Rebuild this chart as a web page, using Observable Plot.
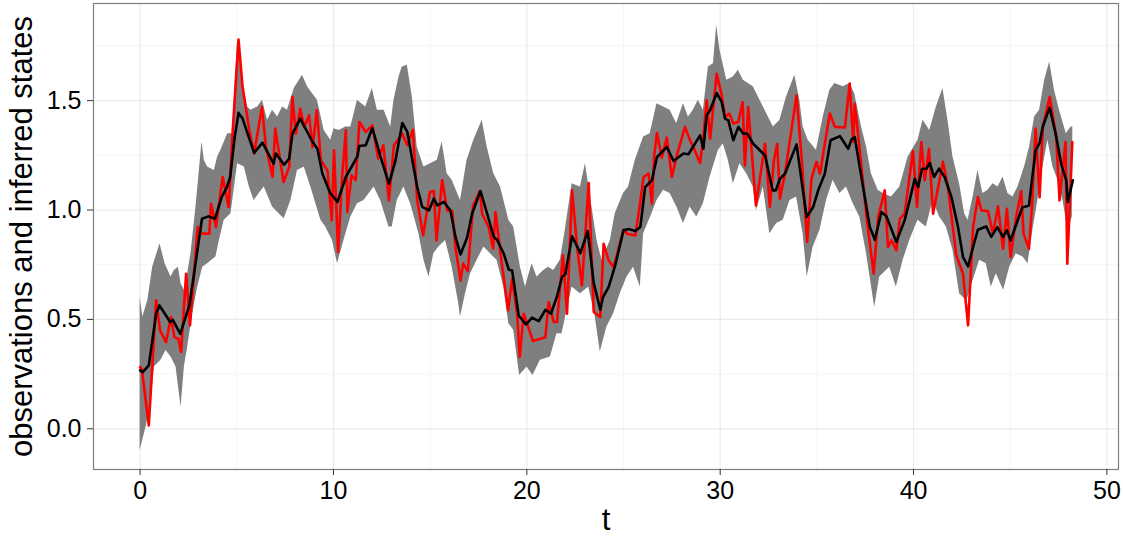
<!DOCTYPE html>
<html><head><meta charset="utf-8">
<script src="https://cdn.jsdelivr.net/npm/d3@7"></script>
<script src="https://cdn.jsdelivr.net/npm/@observablehq/plot@0.6"></script>
<style>body{margin:0;background:#fff;}</style>
</head><body><div id="chart"></div>
<script>
// inferred state (black line): [t, value]
const stateTV = [[0.00,0.267],[0.14,0.259],[0.45,0.290],[0.83,0.526],[1.00,0.564],[1.34,0.518],[1.55,0.488],[1.69,0.498],[2.08,0.434],[2.38,0.518],[2.55,0.564],[2.89,0.770],[3.20,0.960],[3.53,0.971],[3.87,0.960],[4.22,1.059],[4.49,1.105],[4.66,1.151],[4.87,1.319],[5.09,1.444],[5.30,1.418],[5.56,1.349],[5.90,1.261],[6.33,1.308],[6.90,1.212],[7.02,1.258],[7.45,1.207],[7.71,1.235],[7.88,1.349],[8.28,1.418],[8.92,1.311],[9.17,1.280],[9.43,1.166],[9.83,1.078],[10.21,1.037],[10.64,1.151],[11.24,1.245],[11.33,1.293],[11.67,1.296],[12.01,1.375],[12.44,1.242],[12.87,1.120],[13.21,1.227],[13.56,1.398],[13.82,1.357],[14.33,1.105],[14.59,1.014],[14.94,0.998],[15.19,1.052],[15.37,1.021],[15.71,1.037],[16.05,0.998],[16.31,0.877],[16.57,0.797],[16.91,0.873],[17.17,0.983],[17.60,1.087],[17.95,0.983],[18.29,0.877],[18.46,0.864],[18.81,0.800],[19.07,0.727],[19.24,0.724],[19.58,0.518],[19.96,0.477],[20.27,0.508],[20.62,0.492],[20.96,0.544],[21.25,0.526],[21.56,0.605],[21.82,0.694],[21.99,0.706],[22.34,0.880],[22.77,0.803],[23.15,0.904],[23.46,0.666],[23.80,0.544],[23.94,0.602],[24.23,0.648],[24.57,0.747],[25.00,0.907],[25.26,0.913],[25.61,0.904],[25.87,0.922],[26.12,1.105],[26.47,1.136],[26.73,1.242],[27.24,1.288],[27.59,1.224],[28.10,1.258],[28.36,1.255],[28.96,1.341],[29.13,1.280],[29.30,1.433],[29.48,1.456],[29.82,1.535],[30.08,1.494],[30.25,1.418],[30.42,1.410],[30.68,1.319],[30.94,1.380],[31.20,1.349],[31.40,1.349],[31.71,1.303],[31.97,1.280],[32.32,1.250],[32.71,1.090],[32.88,1.090],[33.09,1.143],[33.35,1.166],[33.95,1.300],[34.47,0.968],[34.81,1.014],[35.07,1.090],[35.41,1.166],[35.71,1.319],[36.19,1.338],[36.62,1.280],[36.79,1.322],[36.96,1.334],[37.39,1.105],[37.74,0.922],[38.00,0.864],[38.34,0.991],[38.60,0.971],[39.11,0.854],[39.54,0.953],[39.80,1.044],[40.06,1.143],[40.24,1.105],[40.44,1.189],[40.67,1.189],[40.84,1.215],[41.06,1.151],[41.32,1.189],[41.61,1.151],[41.96,1.059],[42.30,0.922],[42.56,0.785],[42.82,0.742],[43.08,0.831],[43.33,0.910],[43.76,0.925],[44.02,0.877],[44.33,0.922],[44.63,0.877],[44.83,0.907],[45.02,0.861],[45.31,0.934],[45.62,1.011],[45.97,1.021],[46.31,1.273],[46.52,1.306],[46.69,1.383],[47.04,1.468],[47.35,1.349],[47.64,1.209],[47.90,1.136],[47.98,1.037],[48.24,1.136]];

// observations (red line): [t, value]
const obsTV = [[0.00,0.282],[0.09,0.274],[0.45,0.015],[0.83,0.587],[1.03,0.450],[1.34,0.396],[1.60,0.511],[1.77,0.419],[1.98,0.412],[2.12,0.351],[2.38,0.709],[2.58,0.473],[2.98,0.922],[3.15,0.892],[3.58,0.892],[3.67,1.029],[3.92,0.922],[4.27,1.151],[4.58,1.014],[4.78,1.349],[5.09,1.779],[5.30,1.563],[5.65,1.364],[5.90,1.258],[6.30,1.471],[6.51,1.288],[6.85,1.151],[6.99,1.372],[7.42,1.128],[7.71,1.197],[7.88,1.517],[8.05,1.349],[8.28,1.463],[8.49,1.380],[8.74,1.433],[8.92,1.288],[9.14,1.456],[9.35,1.227],[9.69,1.181],[9.91,0.953],[10.03,1.273],[10.24,0.808],[10.46,1.166],[10.64,1.364],[10.72,0.991],[10.93,1.159],[11.15,1.136],[11.34,1.402],[11.67,1.357],[12.01,1.387],[12.31,1.235],[12.58,1.296],[12.87,1.044],[13.13,1.296],[13.56,1.349],[13.82,1.296],[14.11,1.367],[14.33,1.044],[14.64,0.884],[14.99,1.082],[15.19,1.087],[15.33,0.861],[15.62,1.136],[15.88,0.998],[16.14,0.995],[16.31,0.831],[16.57,0.678],[16.71,0.755],[16.95,0.721],[17.22,1.021],[17.57,1.087],[17.69,0.983],[18.03,0.922],[18.26,0.823],[18.38,0.991],[18.64,0.800],[19.03,0.541],[19.24,0.686],[19.50,0.526],[19.63,0.328],[19.84,0.526],[20.32,0.401],[20.96,0.419],[21.13,0.579],[21.39,0.488],[21.56,0.488],[21.87,0.793],[22.08,0.526],[22.34,1.090],[22.60,0.831],[22.85,0.655],[23.20,1.123],[23.46,0.534],[23.80,0.511],[23.97,0.846],[24.23,0.770],[24.49,0.739],[25.00,0.910],[25.18,0.892],[25.61,0.884],[25.83,1.014],[26.04,1.151],[26.30,1.166],[26.47,1.029],[26.59,1.250],[26.73,1.352],[26.98,1.239],[27.24,1.331],[27.50,1.151],[27.76,1.250],[28.18,1.380],[28.44,1.319],[28.61,1.288],[28.96,1.215],[29.13,1.331],[29.30,1.502],[29.48,1.326],[29.82,1.623],[30.08,1.524],[30.25,1.425],[30.47,1.441],[30.68,1.395],[30.94,1.402],[31.16,1.494],[31.28,1.204],[31.45,1.471],[31.85,1.021],[32.32,1.303],[32.57,1.014],[32.78,1.227],[32.95,1.303],[33.09,1.052],[33.35,1.166],[33.95,1.524],[34.21,1.242],[34.50,0.854],[34.72,1.143],[34.98,1.220],[35.16,1.166],[35.67,1.441],[35.93,1.380],[36.45,1.377],[36.70,1.578],[36.88,1.311],[36.96,1.486],[37.22,1.273],[37.57,0.968],[37.94,0.709],[38.17,0.968],[38.51,1.090],[38.68,0.831],[38.86,0.861],[39.11,0.816],[39.29,0.960],[39.54,0.983],[39.97,1.270],[40.18,1.014],[40.40,1.311],[40.58,1.136],[40.80,1.280],[41.01,0.983],[41.52,1.220],[41.78,1.105],[42.21,0.793],[42.56,0.709],[42.82,0.473],[43.08,0.922],[43.33,1.059],[43.51,0.998],[43.85,0.995],[44.11,0.892],[44.37,1.017],[44.63,0.823],[44.83,1.006],[45.02,0.785],[45.31,0.968],[45.57,1.087],[45.69,0.892],[45.97,0.823],[46.14,1.037],[46.31,1.372],[46.52,1.059],[46.69,1.380],[47.04,1.517],[47.38,1.334],[47.55,1.044],[47.86,1.311],[47.95,0.755],[48.07,0.998],[48.21,1.311]];

// credible band upper edge: [t, value]
const bandHiTV = [[0.00,0.602],[0.14,0.511],[0.40,0.587],[0.65,0.739],[1.03,0.846],[1.29,0.755],[1.60,0.694],[1.77,0.724],[1.98,0.739],[2.12,0.663],[2.29,0.633],[2.46,0.709],[2.63,0.800],[2.89,1.014],[3.20,1.311],[3.32,1.227],[3.49,1.197],[3.84,1.181],[4.01,1.242],[4.18,1.273],[4.53,1.349],[4.78,1.349],[5.04,1.776],[5.30,1.578],[5.56,1.471],[5.73,1.456],[6.08,1.471],[6.33,1.502],[6.59,1.410],[6.85,1.456],[7.11,1.425],[7.37,1.471],[7.62,1.456],[7.97,1.555],[8.40,1.616],[8.66,1.563],[8.92,1.532],[9.17,1.502],[9.52,1.364],[9.86,1.319],[10.03,1.372],[10.29,1.364],[10.64,1.380],[10.90,1.380],[11.24,1.502],[11.67,1.471],[12.01,1.555],[12.27,1.456],[12.62,1.456],[12.96,1.380],[13.13,1.502],[13.39,1.608],[13.56,1.654],[13.82,1.662],[14.08,1.517],[14.33,1.288],[14.68,1.197],[15.02,1.212],[15.37,1.227],[15.62,1.311],[15.88,1.166],[16.14,1.136],[16.57,1.044],[16.91,1.227],[17.26,1.319],[17.69,1.410],[17.95,1.288],[18.29,1.166],[18.64,1.105],[19.07,0.953],[19.32,0.922],[19.67,0.739],[19.93,0.648],[20.27,0.755],[20.53,0.694],[20.87,0.724],[21.13,0.739],[21.39,0.724],[21.73,0.770],[21.99,0.907],[22.34,1.120],[22.77,1.105],[23.03,1.212],[23.37,1.014],[23.63,0.861],[23.89,0.770],[24.32,0.861],[24.57,0.983],[25.00,1.075],[25.26,1.105],[25.61,1.227],[26.04,1.334],[26.38,1.349],[26.73,1.486],[27.07,1.471],[27.41,1.456],[27.75,1.395],[28.10,1.486],[28.36,1.425],[28.61,1.456],[28.87,1.502],[29.13,1.456],[29.39,1.654],[29.65,1.669],[29.82,1.845],[29.99,1.730],[30.34,1.593],[30.68,1.608],[30.94,1.639],[31.20,1.593],[31.71,1.563],[32.06,1.502],[32.40,1.441],[32.75,1.380],[33.09,1.410],[33.43,1.517],[33.86,1.616],[34.12,1.502],[34.29,1.380],[34.55,1.319],[34.98,1.273],[35.33,1.425],[35.67,1.547],[35.93,1.578],[36.36,1.563],[36.70,1.578],[36.96,1.532],[37.31,1.380],[37.57,1.288],[37.82,1.166],[38.17,1.090],[38.43,1.075],[38.86,1.059],[39.29,1.105],[39.72,1.242],[40.23,1.319],[40.49,1.410],[40.84,1.364],[41.18,1.471],[41.52,1.555],[41.78,1.410],[42.04,1.242],[42.38,1.120],[42.64,0.983],[42.82,0.953],[43.08,1.059],[43.33,1.181],[43.59,1.075],[43.85,1.090],[44.11,1.120],[44.37,1.105],[44.63,1.151],[44.88,1.075],[45.14,1.059],[45.40,1.105],[45.74,1.197],[46.00,1.288],[46.26,1.425],[46.52,1.456],[46.78,1.593],[47.04,1.677],[47.29,1.547],[47.55,1.456],[47.90,1.349],[48.15,1.380],[48.24,1.380]];

// credible band lower edge: [t, value]
const bandLoTV = [[0.00,-0.099],[0.31,0.008],[0.57,0.130],[0.74,0.282],[1.08,0.313],[1.34,0.358],[1.60,0.328],[1.86,0.282],[2.12,0.099],[2.29,0.282],[2.46,0.373],[2.72,0.526],[2.98,0.648],[3.24,0.739],[3.49,0.755],[3.92,0.785],[4.10,0.861],[4.35,0.953],[4.70,0.983],[5.04,1.212],[5.39,1.197],[5.65,1.105],[5.90,1.044],[6.16,1.075],[6.42,1.105],[6.85,1.014],[7.19,0.983],[7.45,0.960],[7.80,1.044],[8.14,1.181],[8.49,1.197],[8.83,1.105],[9.35,0.953],[9.60,0.922],[9.95,0.861],[10.21,0.755],[10.64,0.892],[10.90,0.968],[11.24,1.029],[11.58,1.044],[12.10,1.105],[12.44,1.044],[12.87,0.922],[13.04,0.922],[13.30,1.044],[13.64,1.105],[13.99,1.029],[14.42,0.892],[14.68,0.770],[14.94,0.694],[15.19,0.800],[15.45,0.831],[15.80,0.861],[16.14,0.739],[16.48,0.572],[16.57,0.511],[16.83,0.617],[17.09,0.709],[17.43,0.770],[17.78,0.831],[18.12,0.800],[18.46,0.770],[18.81,0.648],[19.07,0.480],[19.32,0.450],[19.63,0.244],[20.01,0.282],[20.32,0.244],[20.70,0.313],[21.22,0.328],[21.56,0.434],[21.82,0.434],[22.08,0.541],[22.34,0.648],[22.77,0.617],[23.20,0.648],[23.54,0.511],[23.80,0.351],[24.14,0.465],[24.49,0.526],[24.83,0.617],[25.18,0.694],[25.52,0.739],[25.87,0.648],[26.04,0.892],[26.47,0.983],[26.73,1.044],[27.07,1.090],[27.41,1.075],[27.76,1.014],[28.10,0.938],[28.44,1.014],[28.79,0.968],[29.13,1.029],[29.48,1.151],[29.91,1.273],[30.16,1.303],[30.42,1.227],[30.68,1.120],[31.02,1.212],[31.37,1.166],[31.71,1.105],[31.88,0.998],[32.23,1.105],[32.57,0.892],[32.92,0.938],[33.26,0.953],[33.61,1.044],[33.95,1.059],[34.29,0.892],[34.50,0.694],[34.81,0.831],[35.16,0.907],[35.50,1.044],[35.84,1.136],[36.19,1.075],[36.53,1.105],[36.88,1.029],[37.22,0.968],[37.57,0.800],[37.99,0.556],[38.25,0.694],[38.77,0.739],[39.11,0.648],[39.46,0.770],[39.80,0.861],[40.23,0.953],[40.66,0.922],[41.01,1.044],[41.35,0.968],[41.70,0.922],[42.04,0.816],[42.38,0.617],[42.73,0.587],[42.82,0.602],[43.08,0.678],[43.42,0.770],[43.76,0.755],[44.02,0.648],[44.28,0.709],[44.66,0.633],[44.97,0.739],[45.31,0.800],[45.66,0.785],[45.92,0.755],[46.17,0.907],[46.43,1.044],[46.69,1.197],[46.95,1.319],[47.21,1.197],[47.47,1.136],[47.73,1.044],[47.98,0.907],[48.21,0.968]];

const xTicks = [0, 10, 20, 30, 40, 50];
const xMinor = [5, 15, 25, 35, 45];
const yTicks = [0, 0.5, 1.0, 1.5];
const yMinor = [0.25, 0.75, 1.25, 1.75];

const state = stateTV.map(([t, v]) => ({t, v}));
const obs = obsTV.map(([t, v]) => ({t, v}));
const n = Math.max(bandHiTV.length, bandLoTV.length);
const band = d3.range(n).map(i => {
  const lo = bandLoTV[Math.min(i, bandLoTV.length - 1)];
  const hi = bandHiTV[Math.min(i, bandHiTV.length - 1)];
  return {t1: lo[0], lo: lo[1], t2: hi[0], hi: hi[1]};
});

const font = "'Liberation Sans', Arial, Helvetica, sans-serif";
const chart = Plot.plot({
  width: 1123,
  height: 543,
  marginLeft: 93,
  marginRight: 5,
  marginTop: 3,
  marginBottom: 74,
  style: {fontFamily: font, background: "#fff", color: "#000"},
  x: {domain: [-2.41, 50.6]},
  y: {domain: [-0.186, 1.944]},
  marks: [
    Plot.ruleX(xMinor, {stroke: "#f5f5f5", strokeWidth: 1}),
    Plot.ruleY(yMinor, {stroke: "#f5f5f5", strokeWidth: 1}),
    Plot.ruleX(xTicks, {stroke: "#ebebeb", strokeWidth: 1.2}),
    Plot.ruleY(yTicks, {stroke: "#ebebeb", strokeWidth: 1.2}),
    Plot.area(band, {x1: "t1", y1: "lo", x2: "t2", y2: "hi", fill: "#7f7f7f", fillOpacity: 1}),
    Plot.line(obs, {x: "t", y: "v", stroke: "#ff0000", strokeWidth: 2.6}),
    Plot.line(state, {x: "t", y: "v", stroke: "#000000", strokeWidth: 2.6}),
    Plot.frame({stroke: "#7f7f7f", strokeWidth: 1.2}),
    Plot.axisX(xTicks, {tickSize: 6, tickPadding: 6, fontSize: 25, stroke: "#333", label: null, tickFormat: d => String(d)}),
    Plot.axisY(yTicks, {tickSize: 6, tickPadding: 6, fontSize: 25, stroke: "#333", label: null, tickFormat: d => d.toFixed(1)}),
    Plot.text(["t"], {frameAnchor: "bottom", dy: 60, fontSize: 31, fill: "#000"}),
    Plot.text(["observations and inferred states"], {frameAnchor: "left", textAnchor: "middle", dx: -71, rotate: -90, fontSize: 31, fill: "#000"})
  ]
});
document.getElementById("chart").appendChild(chart);
</script>
</body></html>
